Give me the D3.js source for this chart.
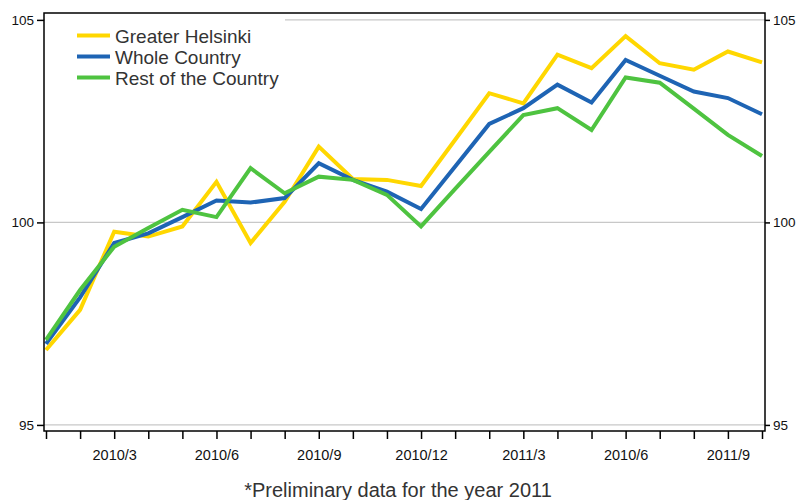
<!DOCTYPE html>
<html>
<head>
<meta charset="utf-8">
<script src="https://cdn.jsdelivr.net/npm/d3@7"></script>
<style>
  html, body { margin: 0; padding: 0; background: #fff; }
  svg { display: block; font-family: "Liberation Sans", Arial, sans-serif; }
</style>
</head>
<body>
<svg id="chart" width="799" height="500"></svg>
<script>
// months 2010/1 .. 2011/10
const months = d3.range(22);
// labels shown under every third tick (reference has "2010/6" where 2011/6 would be)
const tickLabels = ["", "", "2010/3", "", "", "2010/6", "", "", "2010/9", "", "", "2010/12",
  "", "", "2011/3", "", "", "2010/6", "", "", "2011/9", ""];

const helsinki = [96.85, 97.84, 99.77, 99.65, 99.9, 101.0, 99.49, 100.51, 101.87, 101.07, 101.05,
  100.9, 102.04, 103.19, 102.94, 104.14, 103.81, 104.6, 103.93, 103.77, 104.22, 103.95];
const whole = [97.0, 98.15, 99.49, 99.73, 100.13, 100.54, 100.49, 100.6, 101.46, 101.05, 100.76,
  100.33, 101.38, 102.43, 102.82, 103.4, 102.96, 104.01, 103.62, 103.23, 103.07, 102.67];
const rest = [97.1, 98.33, 99.4, 99.86, 100.31, 100.13, 101.34, 100.72, 101.13, 101.05, 100.68,
  99.9, 100.83, 101.74, 102.65, 102.82, 102.28, 103.58, 103.45, 102.81, 102.16, 101.64];

const yTicks = [95, 100, 105];

const series = [
  { name: "Greater Helsinki", color: "#ffd700", values: helsinki },
  { name: "Whole Country", color: "#1e64b4", values: whole },
  { name: "Rest of the Country", color: "#4ec340", values: rest }
];

const svg = d3.select("#chart");
const m = { left: 44, right: 765, top: 13, bottom: 431 };

const x = d3.scaleLinear().domain([0, 21]).range([46, 762]);
const y = d3.scaleLinear().domain([94.85, 105.17]).range([m.bottom, m.top]);

// gridlines
svg.append("g")
  .selectAll("line")
  .data(yTicks)
  .enter().append("line")
  .attr("x1", m.left).attr("x2", m.right)
  .attr("y1", d => y(d)).attr("y2", d => y(d))
  .attr("stroke", "#c8c8c8")
  .attr("stroke-width", 1.2);

// lines
const line = d3.line()
  .x((d, i) => x(i))
  .y(d => y(d));

svg.append("g")
  .selectAll("path")
  .data(series)
  .enter().append("path")
  .attr("d", d => line(d.values))
  .attr("fill", "none")
  .attr("stroke", d => d.color)
  .attr("stroke-width", 4)
  .attr("stroke-linejoin", "miter");

// legend (white box hides part of top gridline)
const lg = svg.append("g");
lg.append("rect")
  .attr("x", m.left + 1).attr("y", m.top + 2)
  .attr("width", 240).attr("height", 75)
  .attr("fill", "#fff");
series.forEach((s, i) => {
  const ly = 35.5 + i * 21;
  lg.append("line")
    .attr("x1", 77).attr("x2", 110)
    .attr("y1", ly).attr("y2", ly)
    .attr("stroke", s.color)
    .attr("stroke-width", 4);
  lg.append("text")
    .attr("x", 115).attr("y", ly + 7)
    .attr("fill", "#333")
    .style("font-size", "19px")
    .text(s.name);
});

// frame
svg.append("rect")
  .attr("x", m.left).attr("y", m.top)
  .attr("width", m.right - m.left).attr("height", m.bottom - m.top)
  .attr("fill", "none")
  .attr("stroke", "#000")
  .attr("stroke-width", 1.5);

// axes
const yLeft = d3.axisLeft(y).tickValues(yTicks).tickSize(7).tickPadding(3);
const yRight = d3.axisRight(y).tickValues(yTicks).tickSize(5).tickPadding(3);
const xAxis = d3.axisBottom(x).tickValues(months).tickSize(8).tickPadding(11)
  .tickFormat(i => tickLabels[i]);

function styleAxis(g) {
  g.select(".domain").remove();
  g.selectAll(".tick line").attr("stroke", "#000").attr("stroke-width", 1.5);
  g.selectAll("text").attr("fill", "#111").style("font-family", "\"Liberation Sans\", Arial, sans-serif");
}

svg.append("g").attr("transform", `translate(${m.left},0)`).call(yLeft).call(styleAxis)
  .selectAll("text").style("font-size", "13.5px");
svg.append("g").attr("transform", `translate(${m.right},0)`).call(yRight).call(styleAxis)
  .selectAll("text").style("font-size", "13.5px");
svg.append("g").attr("transform", `translate(0,${m.bottom})`).call(xAxis).call(styleAxis)
  .selectAll("text").style("font-size", "14.5px");

// footnote
svg.append("text")
  .attr("x", 398).attr("y", 497)
  .attr("text-anchor", "middle")
  .attr("fill", "#333")
  .style("font-size", "20px")
  .text("*Preliminary data for the year 2011");
</script>
</body>
</html>
